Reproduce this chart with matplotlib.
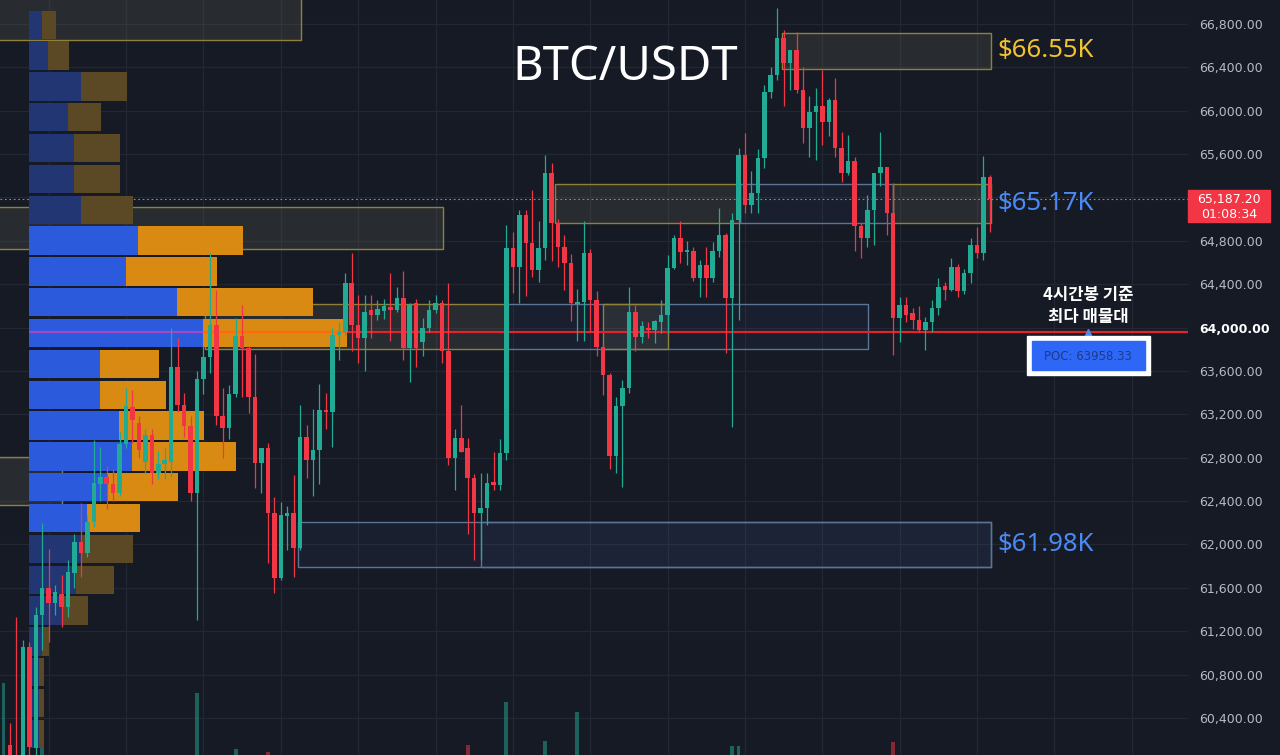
import numpy as np
import matplotlib.pyplot as plt
from matplotlib.patches import Rectangle

plt.rcParams['font.family'] = ['Noto Sans CJK KR', 'DejaVu Sans']

W, H = 1280, 755
PLOT_W = 1188  # right edge of the price pane (px)

# ---- candles (4h BTC/USDT), first candle index is -1 ----
first_idx = -1
opens = [59500, 60150, 59950, 59900, 61050, 60120, 61350, 61600, 61460, 61540, 61420,
         61740, 62020, 61920, 62210, 62560, 62620, 62560, 62470, 62930, 63270,
         63120, 62760, 63010, 62660, 62740, 62760, 63640, 63290, 63090, 62470,
         63530, 63730, 64020, 63180, 63070, 63390, 63920, 63810, 63360, 62750,
         62890, 62290, 61690, 62260, 62290, 61970, 62990, 62780, 62870, 63240,
         63220, 63930, 63960, 64410, 64020, 63900, 64160, 64120, 64150, 64190,
         64160, 64270, 63810, 64230, 63870, 64000, 64160, 64230, 63780, 62800,
         62980, 62890, 62610, 62290, 62340, 62580, 62550, 62840, 64730, 64560,
         65040, 64780, 64530, 64730, 65430, 64960, 64740, 64600, 64220, 64240,
         64690, 64250, 63820, 63560, 62820, 63280, 63440, 64140, 63910, 64000,
         63980, 64050, 64120, 64550, 64830, 64700, 64710, 64460, 64580, 64460,
         64710, 64850, 64270, 64990, 65590, 65130, 65240, 65560, 66170, 66330,
         66670, 66440, 66560, 66190, 65840, 65990, 66040, 65900, 66100, 65660,
         65430, 65540, 64940, 64830, 65080, 65430, 65480, 65060, 64090, 64210,
         64130, 64070, 63980, 64050, 64180, 64380, 64350, 64560, 64340, 64500,
         64760, 64690, 65390]
highs = [60000, 60350, 61330, 61120, 61100, 61420, 62200, 61960, 61630, 61720, 61860,
         62100, 62380, 62270, 62960, 62900, 62720, 62700, 63040, 63440, 63420,
         63180, 63060, 63060, 62860, 62890, 64000, 63900, 63400, 63180, 63600,
         63830, 64690, 64350, 63440, 63470, 64090, 64210, 63830, 63760, 62890,
         62940, 62440, 62390, 62350, 62640, 63290, 63100, 63250, 63480, 63400,
         64000, 64050, 64500, 64690, 64300, 64300, 64300, 64250, 64260, 64500,
         64370, 64520, 64230, 64260, 64090, 64250, 64300, 64250, 64410, 63060,
         63290, 62980, 62650, 62660, 62660, 62850, 62970, 64950, 64880, 65080,
         65080, 65270, 64980, 65590, 65520, 65000, 64850, 64680, 64360, 64980,
         64720, 64340, 63850, 63580, 63360, 63520, 64370, 64210, 64060, 64050,
         64070, 64250, 64670, 64850, 64980, 64800, 64740, 64620, 64740, 64790,
         65100, 64870, 65060, 65660, 65790, 65440, 65650, 66240, 66400, 66950,
         66740, 66560, 66730, 66400, 66140, 66210, 66380, 66120, 66300, 65800,
         65780, 65570, 64960, 65220, 65430, 65800, 65480, 65330, 64280, 64280,
         64180, 64200, 64100, 64250, 64460, 64420, 64640, 64590, 64540, 64830,
         64930, 65580, 65410]
lows = [59400, 59800, 59700, 59850, 60050, 60050, 61030, 61100, 61350, 61240, 61330,
        61600, 61700, 61880, 62160, 62400, 62330, 62400, 62450, 62890, 62940,
        62800, 62660, 62560, 62600, 62600, 62620, 63220, 62990, 62400, 61300,
        63390, 63580, 63100, 62800, 62970, 63360, 63360, 63210, 62520, 62470,
        61830, 61550, 61670, 61950, 61700, 61950, 62610, 62450, 62560, 63060,
        62900, 63700, 63930, 63780, 63670, 63600, 63900, 64070, 64080, 63880,
        64140, 63700, 63500, 63640, 63740, 63960, 64130, 63670, 62730, 62500,
        62850, 62100, 61860, 61860, 62180, 62500, 62500, 62780, 64320, 64230,
        64290, 64470, 64420, 64620, 64610, 64560, 64350, 64060, 63880, 63880,
        63960, 63740, 63380, 62700, 62660, 62530, 63400, 63780, 63860, 63900,
        63860, 63950, 63950, 64540, 64600, 64580, 64430, 64280, 64280, 64420,
        64650, 63770, 63080, 64070, 65060, 65060, 65060, 65470, 66120, 66280,
        66040, 66190, 66160, 65700, 65570, 65550, 65680, 65770, 65570, 65340,
        65410, 64710, 64640, 64740, 64760, 65310, 64850, 63750, 63870, 64050,
        63990, 63960, 63790, 63960, 64120, 64250, 64340, 64280, 64310, 64410,
        64640, 64620, 64880]
closes = [59900, 59900, 59800, 61050, 60130, 61350, 61600, 61460, 61560, 61420, 61750,
          62020, 61920, 62210, 62570, 62620, 62560, 62470, 62930, 63280, 63150,
          62870, 63010, 62660, 62740, 62780, 63640, 63290, 63090, 62470, 63530,
          63730, 64020, 63180, 63070, 63390, 63920, 63810, 63360, 62750, 62890,
          62290, 61690, 62270, 62290, 61970, 62990, 62780, 62870, 63240, 63220,
          63930, 63960, 64410, 64020, 63900, 64140, 64120, 64170, 64200, 64160,
          64270, 63810, 64210, 63810, 64000, 64160, 64230, 63780, 62800, 62980,
          62850, 62610, 62290, 62340, 62570, 62550, 62840, 64730, 64560, 65040,
          64780, 64530, 64730, 65430, 64960, 64740, 64600, 64230, 64240, 64690,
          64250, 63820, 63560, 62820, 63280, 63440, 64140, 63910, 64010, 63980,
          64060, 64120, 64550, 64830, 64700, 64710, 64460, 64580, 64460, 64710,
          64850, 64270, 64990, 65590, 65130, 65240, 65560, 66170, 66330, 66670,
          66440, 66560, 66190, 65840, 65990, 66040, 65900, 66100, 65660, 65430,
          65540, 64940, 64830, 65080, 65430, 65480, 65060, 64090, 64210, 64120,
          64070, 63980, 64050, 64180, 64370, 64350, 64560, 64340, 64500, 64760,
          64690, 65390, 65187.2]

# visible volume bars (candle index, volume)
vol_idx = [-1, 5, 29, 35, 40, 71, 77, 83, 88, 112, 113, 137]
vol_vals = [720, 230, 620, 60, 30, 100, 530, 140, 430, 90, 90, 130]

# volume profile rows (price centre, buy volume, sell volume)
vp_price = [66793, 66508, 66224, 65940, 65655, 65371, 65086, 64802, 64518, 64233,
            63949, 63664, 63380, 63096, 62811, 62527, 62243, 61958, 61674, 61390,
            61105, 60821, 60536, 60252]
vp_up = [12.5, 18.5, 51.5, 38.5, 44.5, 44.5, 51.5, 108.5, 96.5, 147.5,
         173.5, 70.5, 70.5, 89.5, 102.5, 77.5, 57.5, 52.5, 46.5, 33.5,
         12.5, 9.5, 9.5, 9.5]
vp_down = [14, 21, 46, 33, 46, 46, 52, 105, 91, 136,
           144, 59, 66, 85, 104, 71, 53, 51, 38, 25,
           7, 5, 5, 5]
vp_value_area = (7, 16)
poc_price = 63958.33
last_price = 65187.20

# drawn zones: start idx, end idx, low, high, kind
zone_x0 = [-3, -3, 84.5, 113.2, 137, 119.7, 30.2, 76.8, 92, -3, 44.7, 73.1]
zone_x1 = [45.1, 67.2, 113.2, 137, 152.1, 152.1, 77.1, 133.1, 102.1, 8.1, 152.1, 152.1]
zone_lo = [66652, 64725, 64965, 64965, 64965, 66385, 63803, 63803, 63803, 62364, 61792, 61792]
zone_hi = [67300, 65112, 65324, 65324, 65324, 66717, 64217, 64217, 64217, 62807, 62207, 62207]
zone_kind = ['y', 'y', 'y', 'b', 'y', 'y', 'y', 'b', 'y', 'y', 'b', 'b']

price_ticks = [60400, 60800, 61200, 61600, 62000, 62400, 62800, 63200, 63600,
               64000, 64400, 64800, 65600, 66000, 66400, 66800]

BG = '#161a25'
GRID = '#232734'
UP = '#22ab94'
DOWN = '#f23645'

step = 6.447  # px per candle
x_lo = -10 / step
x_hi = (PLOT_W - 10) / step
y_lo, y_hi = 60058, 67021

fig = plt.figure(figsize=(W / 100, H / 100), dpi=100, facecolor=BG)
rect = [0, 0, PLOT_W / W, 1]
ax_bg = fig.add_axes(rect)
ax_vol = fig.add_axes(rect, sharex=ax_bg)
ax_vp = fig.add_axes(rect, sharey=ax_bg)
ax = fig.add_axes(rect, sharex=ax_bg, sharey=ax_bg)

ax_bg.set_facecolor(BG)
for a in (ax_vol, ax_vp, ax):
    a.set_facecolor('none')
ax_bg.set_xlim(x_lo, x_hi)
ax_bg.set_ylim(y_lo, y_hi)

# grid
for p in range(60400, 67000, 400):
    ax_bg.axhline(p, color=GRID, lw=0.9, zorder=0)
for g in range(6, 180, 12):
    ax_bg.axvline(g, color=GRID, lw=0.9, zorder=0)

# zones
for x0, x1, lo, hi, k in zip(zone_x0, zone_x1, zone_lo, zone_hi, zone_kind):
    if k == 'y':
        fc, ec = (0.45, 0.45, 0.36, 0.2), '#8f8238'
    else:
        fc, ec = (0.30, 0.45, 0.75, 0.06), '#5a7596'
    ax_bg.add_patch(Rectangle((x0, lo), x1 - x0, hi - lo, facecolor=fc,
                              edgecolor=ec, lw=1.0, zorder=1))

ax_bg.axhline(poc_price, xmin=0.25, color='#e3222b', lw=1.6, zorder=2)
ax_bg.axhline(last_price, color='#8d909a', lw=0.8, ls=(0, (1.5, 2.5)), zorder=2)
ax_bg.axis('off')

# volume bars
ax_vol.set_ylim(0, 7550)
vcol = []
for i in vol_idx:
    j = i - first_idx
    vcol.append(UP if closes[j] >= opens[j] else DOWN)
ax_vol.bar(vol_idx, vol_vals, width=0.6, color=vcol, alpha=0.5)
ax_vol.axis('off')

# volume profile
ax_vp.set_xlim(-29.5, PLOT_W - 29.5)
row_h = 261
for r, (p, u, d) in enumerate(zip(vp_price, vp_up, vp_down)):
    inside = vp_value_area[0] <= r <= vp_value_area[1]
    cu = '#2b5bdc' if inside else '#213672'
    cd = '#d88a12' if inside else '#5b4824'
    ax_vp.barh(p, u, height=row_h, left=0, color=cu)
    ax_vp.barh(p, d, height=row_h, left=u, color=cd)
r_poc = vp_price.index(63949)
ax_vp.hlines(poc_price, 0, vp_up[r_poc], color='#a545c8', lw=1.6)
ax_vp.hlines(poc_price, vp_up[r_poc], vp_up[r_poc] + vp_down[r_poc], color='#ff6a10', lw=1.6)
ax_vp.axis('off')

# candles
idx = np.arange(first_idx, first_idx + len(opens))
o = np.array(opens, float)
c = np.array(closes, float)
hi = np.array(highs, float)
lo = np.array(lows, float)
cols = np.where(c >= o, UP, DOWN)
ax.vlines(idx, lo, hi, colors=cols, lw=0.9, zorder=3)
body_lo = np.minimum(o, c)
body_h = np.maximum(np.abs(c - o), 12)
ax.bar(idx, body_h, bottom=body_lo, width=0.7, color=cols, zorder=4)

# price axis
for s in ax.spines.values():
    s.set_visible(False)
ax.set_xticks([])
ax.yaxis.tick_right()
ax.set_yticks(price_ticks)
ax.set_yticklabels([f'{t:,.2f}' for t in price_ticks], family='DejaVu Sans')
ax.tick_params(axis='y', length=0, pad=8, labelsize=9, labelcolor='#b8bbc4')
for t, lab in zip(price_ticks, ax.get_yticklabels()):
    if t == 64000:
        lab.set_color('white')
        lab.set_fontweight('bold')
ax.set_xlim(x_lo, x_hi)
ax.set_ylim(y_lo, y_hi)

# last price tag
fig.add_artist(Rectangle((PLOT_W / W, 1 - 222 / H), 82 / W, 32 / H,
                         transform=fig.transFigure, color=DOWN, zorder=5))
fig.text(1229 / W, 1 - 199 / H, f'{last_price:,.2f}', ha='center', va='center',
         color='white', fontsize=9, family='DejaVu Sans', zorder=6)
fig.text(1229 / W, 1 - 214 / H, '01:08:34', ha='center', va='center',
         color='white', fontsize=9, family='DejaVu Sans', zorder=6)

# annotations
fig.text(625 / W, 1 - 68 / H, 'BTC/USDT', ha='center', va='center',
         color='white', fontsize=34, family=['Noto Sans', 'DejaVu Sans'])
tag_x = 153.2
tag_kw = dict(fontsize=18.5, family=['Noto Sans', 'DejaVu Sans'],
              ha='left', va='center', zorder=6)
ax.text(tag_x, (zone_lo[5] + zone_hi[5]) / 2, '$66.55K', color='#f2c230', **tag_kw)
ax.text(tag_x, (zone_lo[2] + zone_hi[2]) / 2, '$65.17K', color='#4a8af4', **tag_kw)
ax.text(tag_x, (zone_lo[10] + zone_hi[10]) / 2, '$61.98K', color='#4a8af4', **tag_kw)

fig.text(1088 / W, 1 - 306 / H, '4시간봉 기준\n최다 매물대', ha='center', va='center',
         color='white', fontsize=12, fontweight='bold', linespacing=1.3)
ax.plot([167.2], [poc_price], marker='^', ms=5, color='#4a8af4', zorder=6)
fig.add_artist(Rectangle((1027 / W, 1 - 375 / H), 123 / W, 39 / H,
                         transform=fig.transFigure, color='white', zorder=5))
fig.add_artist(Rectangle((1032 / W, 1 - 370 / H), 113 / W, 29 / H,
                         transform=fig.transFigure, color='#2e67f5', zorder=6))
fig.text(1088 / W, 1 - 356 / H, f'POC: {poc_price:.2f}', ha='center', va='center',
         color='#1d3a8c', fontsize=8.5, family='DejaVu Sans', zorder=7)

fig.savefig('out.png', dpi=100, facecolor=BG)
